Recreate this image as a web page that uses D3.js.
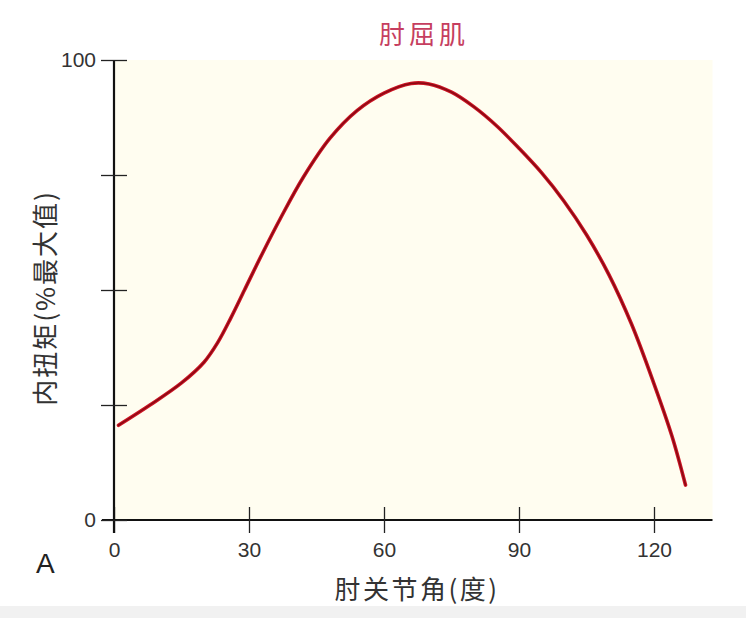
<!DOCTYPE html>
<html><head><meta charset="utf-8">
<script src="https://cdn.jsdelivr.net/npm/d3@7/dist/d3.min.js"></script>
<style>
html,body{margin:0;padding:0;background:#fff;}
svg{display:block;}
</style></head>
<body><svg id="c" width="746" height="618"></svg>
<script>
const title = "肘屈肌";
const xLabel = "肘关节角(度)";
const yLabel = "内扭矩(%最大值)";
const panelLabel = "A";
const xTicks = [0, 30, 60, 90, 120];
const yTicks = [0, 25, 50, 75, 100];
const yTickLabels = ["0", "", "", "", "100"];
const angle = [1, 8, 15, 20, 23, 26, 29, 33, 37, 42, 48, 54, 60, 66, 70, 75, 80, 85, 90, 95, 100, 105, 110, 115, 120, 124, 127];
const torque = [20.6, 25, 29.8, 34.3, 38.5, 44, 50, 58, 65.6, 74.4, 83, 89, 92.8, 94.9, 94.8, 93, 89.8, 85.7, 80.8, 75.5, 69.3, 62, 53.3, 42.6, 29.6, 18.2, 7.6];

const svg = d3.select("#c");
const W = 746, H = 618;
const x = d3.scaleLinear().domain([0, 133]).range([114, 712.5]);
const y = d3.scaleLinear().domain([0, 100]).range([520, 60]);

// bottom grey strip
svg.append("rect").attr("x", 0).attr("y", 606).attr("width", W).attr("height", H - 606).attr("fill", "#f1f1f1");
// plot background
svg.append("rect").attr("x", x(0)).attr("y", y(100)).attr("width", x(133) - x(0)).attr("height", y(0) - y(100)).attr("fill", "#fffdf0");

// axes
const xAxis = svg.append("g").attr("transform", `translate(0,${y(0)})`)
  .call(d3.axisBottom(x).tickValues(xTicks).tickSize(13).tickPadding(9).tickFormat(d3.format("d")));
xAxis.select(".domain").attr("d", `M${x(0) - 12},0H${x(133)}`).attr("stroke", "#111").attr("stroke-width", 2.2);
xAxis.selectAll(".tick line").attr("y1", -13).attr("y2", 13).attr("stroke", "#222").attr("stroke-width", 1.3);
xAxis.selectAll(".tick text").attr("fill", "#333").attr("font-family", "Liberation Sans, Arial, sans-serif").attr("font-size", 21);

const yAxis = svg.append("g").attr("transform", `translate(${x(0)},0)`)
  .call(d3.axisLeft(y).tickValues(yTicks).tickSize(13).tickPadding(5).tickFormat((d, i) => yTickLabels[i]));
yAxis.select(".domain").attr("d", `M0,${y(100)}V${y(0) + 13}`).attr("stroke", "#111").attr("stroke-width", 2.2);
yAxis.selectAll(".tick line").attr("x1", -13).attr("x2", 13).attr("stroke", "#222").attr("stroke-width", 1.3);
yAxis.selectAll(".tick text").attr("fill", "#333").attr("font-family", "Liberation Sans, Arial, sans-serif").attr("font-size", 21);

// curve
const pts = angle.map((a, i) => [a, torque[i]]);
const line = d3.line().x(d => x(d[0])).y(d => y(d[1])).curve(d3.curveCatmullRom.alpha(0.5));
svg.append("path").datum(pts).attr("d", line).attr("fill", "none")
  .attr("stroke", "#cc1424").attr("stroke-width", 3.6).attr("stroke-linecap", "round");
svg.append("path").datum(pts).attr("d", line).attr("fill", "none")
  .attr("stroke", "#8a0a14").attr("stroke-width", 1.5).attr("stroke-linecap", "round");

// title
svg.append("text").attr("x", 424).attr("y", 44).attr("text-anchor", "middle")
  .attr("font-family", "Noto Sans CJK SC, sans-serif").attr("font-size", 26).attr("letter-spacing", 4)
  .attr("fill", "#c63e60").text(title);

// x label
svg.append("text").attr("x", 417).attr("y", 599).attr("text-anchor", "middle")
  .attr("font-family", "Noto Sans CJK SC, sans-serif").attr("font-size", 26).attr("letter-spacing", 2.5)
  .attr("fill", "#333").text(xLabel);

// y label
svg.append("text").attr("transform", `translate(55,298) rotate(-90)`).attr("text-anchor", "middle")
  .attr("font-family", "Noto Sans CJK SC, sans-serif").attr("font-size", 26).attr("letter-spacing", 2)
  .attr("fill", "#333").text(yLabel);

// panel label
svg.append("text").attr("x", 36).attr("y", 573)
  .attr("font-family", "Liberation Sans, Arial, sans-serif").attr("font-size", 28)
  .attr("fill", "#222").text(panelLabel);
</script></body></html>
